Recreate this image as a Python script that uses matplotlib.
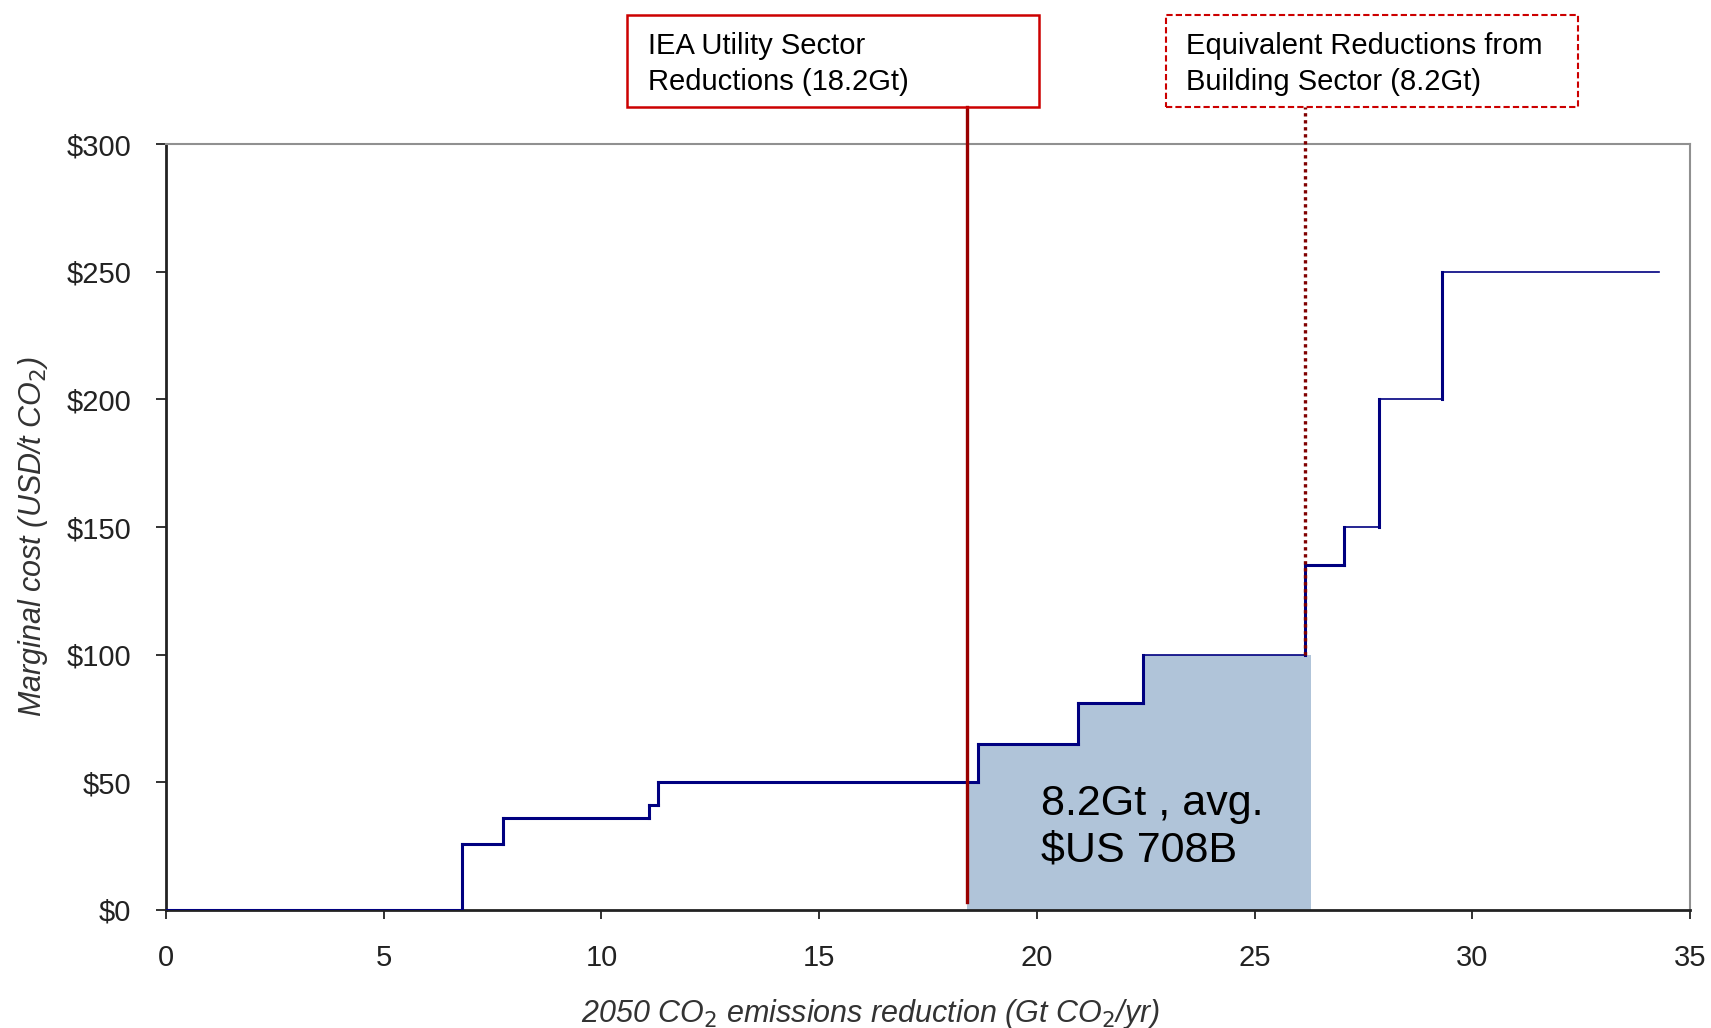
import numpy as np
import matplotlib.pyplot as plt
from matplotlib.patches import Rectangle

# marginal abatement cost curve (step edges in Gt, cost in USD/t)
x_steps = [0, 6.8, 7.75, 11.1, 11.3, 18.65, 20.95, 22.45, 26.15, 27.05, 27.85, 29.3, 34.3]
cost = [0, 26, 36, 41, 50, 65, 81, 100, 135, 150, 200, 250, 250]
seg_width = [2.2, 2.2, 2.2, 2.2, 2.2, 2.2, 2.2, 1.2, 2.2, 1.2, 1.2, 1.2]

utility_x = 18.4
building_x = 26.15
fill_start, fill_end, fill_cap = 18.4, 26.3, 100

x_ticks = [0, 5, 10, 15, 20, 25, 30, 35]
y_ticks = [0, 50, 100, 150, 200, 250, 300]

plt.rcParams['font.family'] = ['Liberation Sans', 'DejaVu Sans']

fig = plt.figure(figsize=(17.11, 10.28), dpi=100)
ax = fig.add_axes([0.097, 0.1148, 0.8907, 0.7451])

# shaded area under the curve between the two markers
xs = np.array(x_steps)
cs = np.array(cost)
inner = xs[(xs > fill_start) & (xs < fill_end)]
fx = np.concatenate([[fill_start], inner, [fill_end]])
fy = np.minimum(cs[np.searchsorted(xs, fx, side='right') - 1], fill_cap)
ax.fill_between(fx, 0, fy, step='post', color='#b0c4d9', lw=0, zorder=1)

# step line
ax.hlines(cost[:-1], x_steps[:-1], x_steps[1:], colors='#000080',
          linewidths=seg_width, capstyle='projecting', zorder=3)
ax.vlines(x_steps[1:-1], cost[:-2], cost[1:-1], colors='#000080',
          linewidths=2.2, capstyle='projecting', zorder=3)

ax.set_xlim(0, 35)
ax.set_ylim(0, 300)
ax.set_xticks(x_ticks)
ax.set_yticks(y_ticks)
ax.set_yticklabels(['$%d' % v for v in y_ticks])

for s in ['left', 'bottom']:
    ax.spines[s].set_linewidth(2)
    ax.spines[s].set_color('#222222')
for s in ['top', 'right']:
    ax.spines[s].set_linewidth(1.5)
    ax.spines[s].set_color('#909090')
ax.tick_params(axis='y', length=7, width=1.3, pad=18, labelsize=21,
               labelcolor='#222222', colors='#222222')
ax.tick_params(axis='x', length=6.5, width=1.3, pad=18, labelsize=21,
               labelcolor='#222222', colors='#222222')

ax.set_xlabel('2050 CO$_2$ emissions reduction (Gt CO$_2$/yr)', fontsize=22,
              style='italic', color='#333333', labelpad=18, x=0.462)
ax.set_ylabel('Marginal cost (USD/t CO$_2$)', fontsize=22, style='italic',
              color='#333333', labelpad=12, y=0.488)

# annotation boxes above the plot
box_bottom = 0.8959
box_top = 0.9854
fig.add_artist(Rectangle((0.3665, box_bottom), 0.2407, box_top - box_bottom,
                         transform=fig.transFigure, fill=False,
                         edgecolor='#cc0000', lw=1.8))
fig.add_artist(Rectangle((0.6815, box_bottom), 0.2408, box_top - box_bottom,
                         transform=fig.transFigure, fill=False,
                         edgecolor='#cc0000', lw=1.5, linestyle=(0, (3, 1.5))))
fig.text(0.3787, 0.938, 'IEA Utility Sector\nReductions (18.2Gt)', fontsize=21,
         va='center', ha='left', linespacing=1.35)
fig.text(0.6932, 0.938, 'Equivalent Reductions from\nBuilding Sector (8.2Gt)',
         fontsize=21, va='center', ha='left', linespacing=1.35)

# vertical markers running up to the boxes
top_y = ax.transData.inverted().transform(fig.transFigure.transform((0, box_bottom)))[1]
ax.plot([utility_x, utility_x], [3, top_y], color='#990000', lw=2.4,
        clip_on=False, zorder=4)
ax.plot([building_x, building_x], [fill_cap, top_y], color='#800000', lw=2.4,
        linestyle=(0, (1, 1.1)), clip_on=False, zorder=4)

ax.text(20.1, 32.5, '8.2Gt , avg.\n$US 708B', fontsize=31,
        va='center', ha='left', linespacing=1.2, zorder=5)

fig.savefig('out.png', dpi=100, facecolor='white')
